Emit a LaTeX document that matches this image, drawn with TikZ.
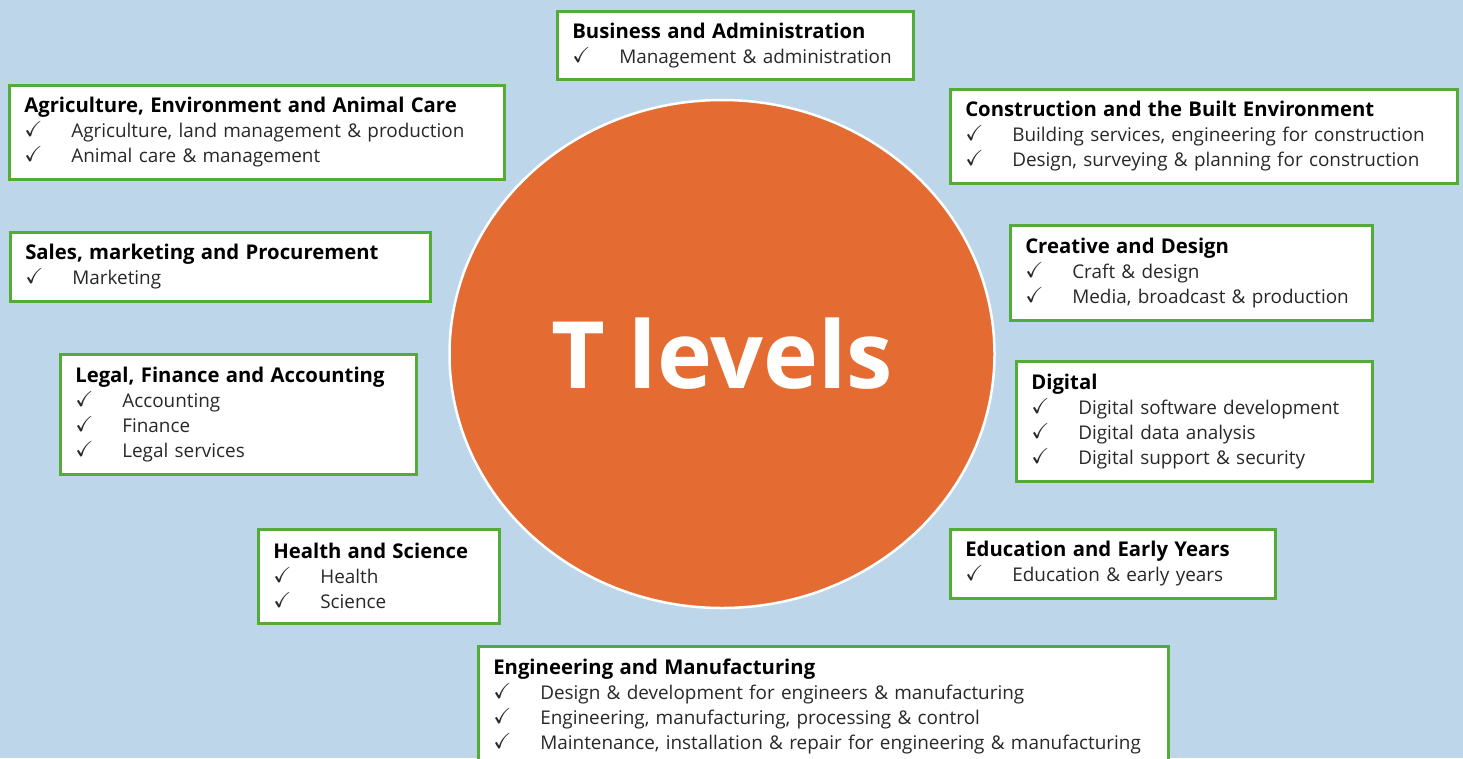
\documentclass[tikz,border=0pt]{standalone}
\usepackage{amssymb}
\usepackage{fontspec}
\setmainfont{Open Sans}
\usetikzlibrary{shapes.geometric, positioning}

\definecolor{skyback}{RGB}{189, 214, 234}
\definecolor{tlorange}{RGB}{228, 108, 50}
\definecolor{boxgreen}{RGB}{84, 172, 56}
\definecolor{itemgray}{RGB}{40, 40, 40}

\newcommand{\ttl}[1]{{\fontsize{20.3}{25}\selectfont\bfseries\color{black}#1}}
\newcommand{\tck}[1]{\makebox[47pt][l]{\raisebox{1pt}{\scalebox{1.15}{$\checkmark$}}}#1}

\tikzset{
  topicbox/.style={draw=boxgreen, line width=2.6pt, fill=white, anchor=north west,
    align=left, inner xsep=15pt, inner ysep=0pt, text=itemgray,
    font=\fontsize{18.9}{25}\selectfont},
}

\begin{document}
\begin{tikzpicture}[x=1pt, y=-1pt]
  \useasboundingbox (0,0) rectangle (1463,758);
  \clip (0,0) rectangle (1463,758);
  \fill[skyback] (0,0) rectangle (1463,758);

  % Centre
  \node[ellipse, fill=tlorange, draw=white, line width=2.5pt, minimum width=545pt, minimum height=508pt,
        text=white, font=\fontsize{93}{100}\selectfont\bfseries] (tlevels) at (722,354) {T levels};

  % Top row
  \node[topicbox, minimum height=68pt, text width=326pt] (busadm) at (556,10) {
    \ttl{Business and Administration}\\
    \tck{Management \& administration}};

  \node[topicbox, minimum height=94pt, text width=465pt] (agri) at (8,84) {
    \ttl{Agriculture, Environment and Animal Care}\\
    \tck{Agriculture, land management \& production}\\
    \tck{Animal care \& management}};

  \node[topicbox, minimum height=94pt, text width=477pt] (constr) at (949,88) {
    \ttl{Construction and the Built Environment}\\
    \tck{Building services, engineering for construction}\\
    \tck{Design, surveying \& planning for construction}};

  % Left side
  \node[topicbox, minimum height=69pt, text width=390pt] (sales) at (9,231) {
    \ttl{Sales, marketing and Procurement}\\
    \tck{Marketing}};

  \node[topicbox, minimum height=120pt, text width=326pt] (legal) at (59,353) {
    \ttl{Legal, Finance and Accounting}\\
    \tck{Accounting}\\
    \tck{Finance}\\
    \tck{Legal services}};

  \node[topicbox, minimum height=94pt, text width=211pt] (health) at (257,528) {
    \ttl{Health and Science}\\
    \tck{Health}\\
    \tck{Science}};

  % Right side
  \node[topicbox, minimum height=95pt, text width=332pt] (creative) at (1009,224) {
    \ttl{Creative and Design}\\
    \tck{Craft \& design}\\
    \tck{Media, broadcast \& production}};

  \node[topicbox, minimum height=120pt, text width=326pt] (digital) at (1015,360) {
    \ttl{Digital}\\
    \tck{Digital software development}\\
    \tck{Digital data analysis}\\
    \tck{Digital support \& security}};

  \node[topicbox, minimum height=69pt, text width=295pt] (educ) at (949,528) {
    \ttl{Education and Early Years}\\
    \tck{Education \& early years}};

  % Bottom
  \node[topicbox, minimum height=120pt, text width=660pt] (engin) at (477,645) {
    \ttl{Engineering and Manufacturing}\\
    \tck{Design \& development for engineers \& manufacturing}\\
    \tck{Engineering, manufacturing, processing \& control}\\
    \tck{Maintenance, installation \& repair for engineering \& manufacturing}};
\end{tikzpicture}
\end{document}
